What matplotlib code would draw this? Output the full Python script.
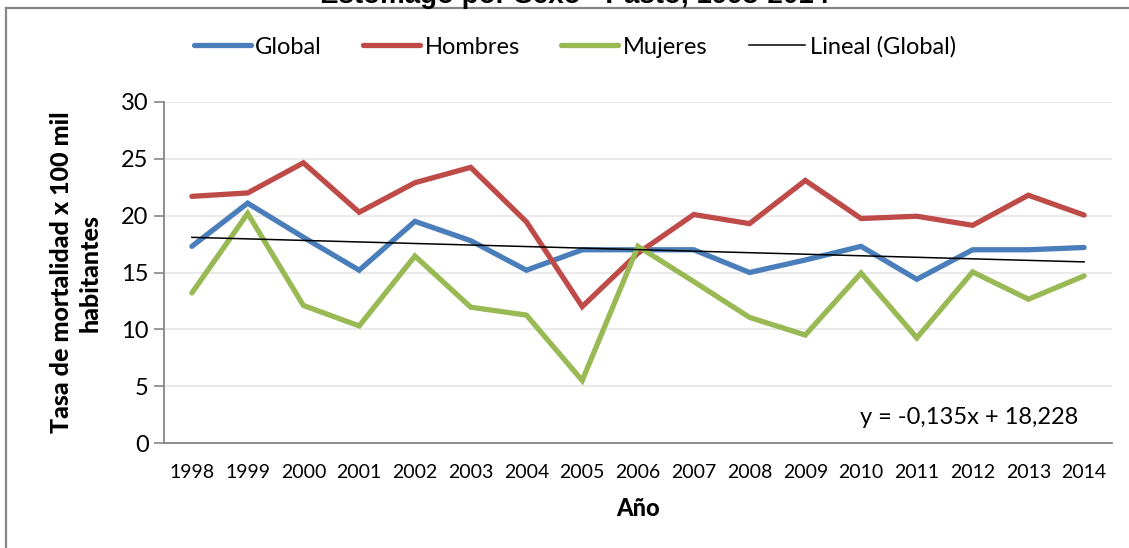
import matplotlib
matplotlib.use("Agg")
import matplotlib.pyplot as plt
from matplotlib.lines import Line2D
import numpy as np

plt.rcParams['font.family'] = ['Lato', 'DejaVu Sans']

years = ['1998', '1999', '2000', '2001', '2002', '2003', '2004', '2005', '2006',
         '2007', '2008', '2009', '2010', '2011', '2012', '2013', '2014']
global_rate = [17.3, 21.1, 18.1, 15.2, 19.5, 17.8, 15.2, 17.0, 17.0,
               17.0, 15.0, 16.1, 17.3, 14.4, 17.0, 17.0, 17.2]
hombres = [21.7, 22.0, 24.65, 20.3, 22.9, 24.25, 19.45, 12.0, 16.7,
           20.1, 19.3, 23.1, 19.75, 19.95, 19.15, 21.8, 20.05]
mujeres = [13.2, 20.2, 12.1, 10.3, 16.45, 11.95, 11.25, 5.5, 17.3,
           14.2, 11.05, 9.5, 14.95, 9.25, 15.05, 12.65, 14.7]
trend_slope = -0.135
trend_intercept = 18.228
yticks = [0, 5, 10, 15, 20, 25, 30]

fig = plt.figure(figsize=(11.29, 5.48), dpi=100)
ax = fig.add_axes([164/1129, 1-443/548, (1112-164)/1129, (443-102)/548])

x = np.arange(len(years))
c_blue, c_red, c_green = '#4A7EBB', '#BE4B48', '#98B954'
lw = 3.8
ax.plot(x, global_rate, color=c_blue, lw=lw, solid_capstyle='round', solid_joinstyle='miter', label='Global', zorder=3)
ax.plot(x, hombres, color=c_red, lw=lw, solid_capstyle='round', solid_joinstyle='miter', label='Hombres', zorder=3)
ax.plot(x, mujeres, color=c_green, lw=lw, solid_capstyle='round', solid_joinstyle='miter', label='Mujeres', zorder=3)
trend = trend_slope * (x + 1) + trend_intercept
ax.plot(x, trend, color='black', lw=1.1, label='Lineal (Global)', zorder=4)

ax.set_xlim(-0.5, len(years) - 0.5)
ax.set_ylim(0, 30)
ax.set_yticks(yticks)
ax.set_xticks(x)
ax.set_xticklabels(years, fontsize=14)
ax.tick_params(axis='y', labelsize=17, length=7, width=1.2, color='#868686', pad=4)
ax.tick_params(axis='x', length=0, pad=15)
ax.grid(axis='y', color='#E6E6E6', lw=1.2)
ax.set_axisbelow(True)
for s in ['top', 'right']:
    ax.spines[s].set_visible(False)
for s in ['left', 'bottom']:
    ax.spines[s].set_color('#868686')
    ax.spines[s].set_linewidth(1.3)

ax.set_ylabel('Tasa de mortalidad x 100 mil\nhabitantes', fontsize=18, fontweight='black',
              linespacing=1.3, labelpad=14)
ax.set_xlabel('Año', fontsize=17, fontweight='black', labelpad=12)

eq = 'y = {:.3f}x + {:.3f}'.format(trend_slope, trend_intercept).replace('.', ',')
fig.text(1078/1129, 1-418/548, eq, ha='right', va='center', fontsize=17)

leg = fig.legend(loc='center', bbox_to_anchor=(575/1129, 1-47/548), ncol=4, frameon=False,
                 fontsize=17, handlelength=2.4, handletextpad=0.2, columnspacing=1.75)

fig.text(575/1129, 1-3/548, 'Estómago por Sexo - Pasto, 1998-2014', ha='center', va='baseline',
         fontsize=20, fontweight='bold', family='Liberation Sans')

fig.add_artist(Line2D([6/1129, 1.0], [1-8/548, 1-8/548], transform=fig.transFigure, color='#868686', lw=1.6))
fig.add_artist(Line2D([6/1129, 6/1129], [0, 1-8/548], transform=fig.transFigure, color='#868686', lw=1.6))

fig.savefig('out.png', dpi=100)
